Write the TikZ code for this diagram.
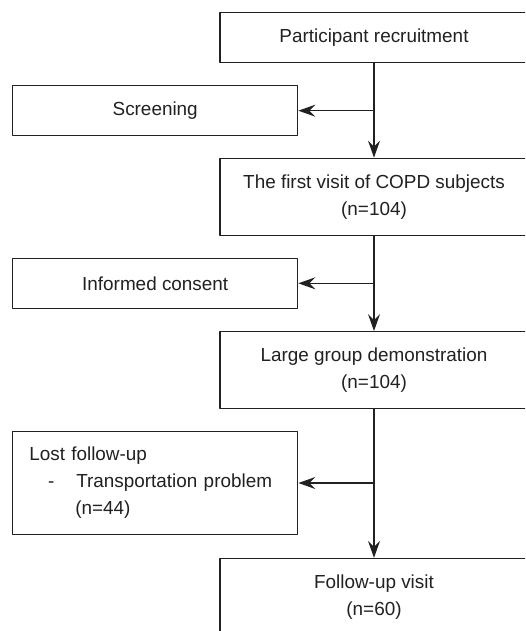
\documentclass[tikz,border=0pt]{standalone}
\usepackage{fontspec}
\setmainfont{Liberation Sans}
\usetikzlibrary{arrows.meta}
\definecolor{qqqqqq}{rgb}{0.13,0.13,0.13}

\begin{document}
\begin{tikzpicture}[line cap=round,line join=round,>={Stealth[length=8.5pt,width=6pt,inset=3pt]},x=0.5pt,y=-0.5pt,
    box/.style={draw=qqqqqq,line width=0.65pt,fill=white,inner sep=0pt,align=center,text=qqqqqq,font=\fontsize{9.45}{13.5}\selectfont},
    mainbox/.style={box,minimum width=154pt},
    sidebox/.style={box,minimum width=142.5pt},
    link/.style={->,line width=0.7pt,draw=qqqqqq}]
    \useasboundingbox (0,0) rectangle (525,631);
    \clip (0,0) rectangle (525,631);
    \node[mainbox,minimum height=24.8pt] (recruit) at (374,37.5) {Participant recruitment};
    \node[mainbox,minimum height=38.7pt] (first) at (374,197) {The first visit of COPD subjects\\(n=104)};
    \node[mainbox,minimum height=38.3pt] (large) at (374,370) {Large group demonstration\\(n=104)};
    \node[mainbox,minimum height=38.5pt] (follow) at (374,597) {Follow-up visit\\(n=60)};
    \node[sidebox,minimum height=25pt] (screen) at (155.2,110.7) {Screening};
    \node[sidebox,minimum height=25pt] (consent) at (155.2,283.3) {Informed consent};
    \node[sidebox,minimum height=51.3pt,align=left,inner xsep=8.3pt,text width=125.9pt] (lost) at (155.2,483)
        {Lost follow-up\\\makebox[23.5pt][l]{\hspace*{9.4pt}-}Transportation problem\\\hspace*{23pt}(n=44)};
    \draw[link] (recruit) -- (first);
    \draw[link] (first) -- (large);
    \draw[link] (large) -- (follow);
    \draw[link] (recruit.south |- screen) -- (screen);
    \draw[link] (first.south |- consent) -- (consent);
    \draw[link] (large.south |- lost) -- (lost);
\end{tikzpicture}
\end{document}
